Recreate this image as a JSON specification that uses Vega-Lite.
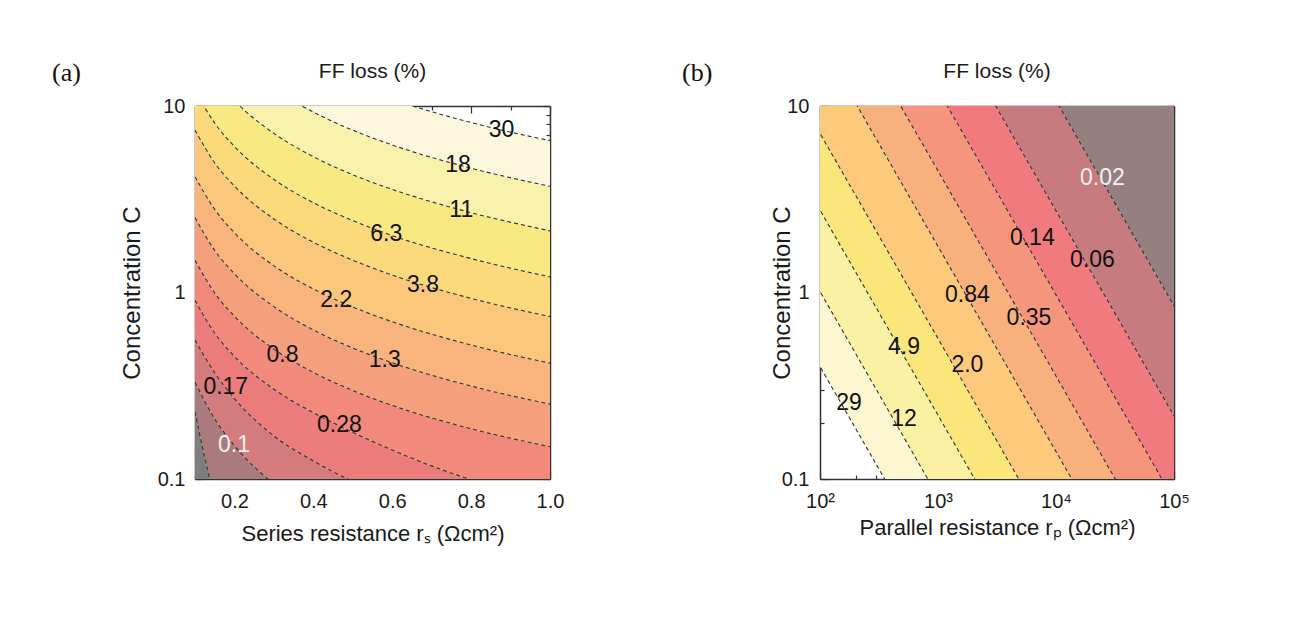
{
  "$schema": "https://vega.github.io/schema/vega-lite/v6.json",
  "background": "white",
  "padding": {"left": 52, "top": 60, "right": 5, "bottom": 5},
  "spacing": 118,
  "resolve": {"scale": {"color": "independent"}},
  "config": {
    "font": "Liberation Sans",
    "view": {"stroke": null},
    "axis": {"domain": true, "domainColor": "#333", "domainWidth": 1.5, "grid": false, "zindex": 1, "labelFont": "Liberation Sans", "labelFontSize": 20, "labelColor": "#1a1a1a", "tickColor": "#333", "tickWidth": 1.2, "titleFont": "Liberation Sans", "titleFontSize": 22, "titleFontWeight": "normal", "titleColor": "#1a1a1a", "labelOverlap": false, "labelFlush": false, "labelBound": false},
    "title": {"font": "Liberation Sans", "fontSize": 21, "fontWeight": "normal", "color": "#1a1a1a", "offset": -22}
  },
  "datasets": {
    "a_curves": [
      {"x":0.1,"C":0.001,"k":0},{"x":0.15,"C":0.001,"k":0},{"x":0.2,"C":0.001,"k":0},{"x":0.3,"C":0.001,"k":0},{"x":0.4,"C":0.001,"k":0},{"x":0.5,"C":0.001,"k":0},{"x":0.6,"C":0.001,"k":0},{"x":0.8,"C":0.001,"k":0},{"x":1.0,"C":0.001,"k":0},
      {"x":0.1,"C":0.23,"k":1},{"x":0.15,"C":0.082,"k":1},{"x":0.2,"C":0.055,"k":1},{"x":0.3,"C":0.037,"k":1},{"x":0.4,"C":0.028,"k":1},{"x":0.5,"C":0.022,"k":1},{"x":0.6,"C":0.018,"k":1},{"x":0.8,"C":0.014,"k":1},{"x":1.0,"C":0.011,"k":1},
      {"x":0.1,"C":0.33,"k":2},{"x":0.15,"C":0.21,"k":2},{"x":0.2,"C":0.151,"k":2},{"x":0.3,"C":0.094,"k":2},{"x":0.4,"C":0.068,"k":2},{"x":0.5,"C":0.054,"k":2},{"x":0.6,"C":0.045,"k":2},{"x":0.8,"C":0.034,"k":2},{"x":1.0,"C":0.027,"k":2},
      {"x":0.1,"C":0.556,"k":3},{"x":0.15,"C":0.371,"k":3},{"x":0.2,"C":0.27,"k":3},{"x":0.3,"C":0.17,"k":3},{"x":0.4,"C":0.125,"k":3},{"x":0.5,"C":0.097,"k":3},{"x":0.6,"C":0.08,"k":3},{"x":0.8,"C":0.06,"k":3},{"x":1.0,"C":0.048,"k":3},
      {"x":0.1,"C":0.908,"k":4},{"x":0.15,"C":0.605,"k":4},{"x":0.2,"C":0.454,"k":4},{"x":0.3,"C":0.303,"k":4},{"x":0.4,"C":0.227,"k":4},{"x":0.5,"C":0.178,"k":4},{"x":0.6,"C":0.143,"k":4},{"x":0.8,"C":0.099,"k":4},{"x":1.0,"C":0.076,"k":4},
      {"x":0.1,"C":1.49,"k":5},{"x":0.15,"C":0.993,"k":5},{"x":0.2,"C":0.745,"k":5},{"x":0.3,"C":0.497,"k":5},{"x":0.4,"C":0.373,"k":5},{"x":0.5,"C":0.298,"k":5},{"x":0.6,"C":0.248,"k":5},{"x":0.8,"C":0.186,"k":5},{"x":1.0,"C":0.149,"k":5},
      {"x":0.1,"C":2.52,"k":6},{"x":0.15,"C":1.68,"k":6},{"x":0.2,"C":1.26,"k":6},{"x":0.3,"C":0.84,"k":6},{"x":0.4,"C":0.63,"k":6},{"x":0.5,"C":0.504,"k":6},{"x":0.6,"C":0.42,"k":6},{"x":0.8,"C":0.315,"k":6},{"x":1.0,"C":0.252,"k":6},
      {"x":0.1,"C":4.18,"k":7},{"x":0.15,"C":2.79,"k":7},{"x":0.2,"C":2.09,"k":7},{"x":0.3,"C":1.39,"k":7},{"x":0.4,"C":1.045,"k":7},{"x":0.5,"C":0.836,"k":7},{"x":0.6,"C":0.697,"k":7},{"x":0.8,"C":0.523,"k":7},{"x":1.0,"C":0.418,"k":7},
      {"x":0.1,"C":7.43,"k":8},{"x":0.15,"C":4.95,"k":8},{"x":0.2,"C":3.72,"k":8},{"x":0.3,"C":2.48,"k":8},{"x":0.4,"C":1.86,"k":8},{"x":0.5,"C":1.49,"k":8},{"x":0.6,"C":1.24,"k":8},{"x":0.8,"C":0.93,"k":8},{"x":1.0,"C":0.743,"k":8},
      {"x":0.1,"C":12.13,"k":9},{"x":0.15,"C":8.09,"k":9},{"x":0.2,"C":6.07,"k":9},{"x":0.3,"C":4.04,"k":9},{"x":0.4,"C":3.03,"k":9},{"x":0.5,"C":2.43,"k":9},{"x":0.6,"C":2.02,"k":9},{"x":0.8,"C":1.52,"k":9},{"x":1.0,"C":1.213,"k":9},
      {"x":0.1,"C":21.4,"k":10},{"x":0.15,"C":14.27,"k":10},{"x":0.2,"C":10.7,"k":10},{"x":0.3,"C":7.13,"k":10},{"x":0.4,"C":5.35,"k":10},{"x":0.5,"C":4.28,"k":10},{"x":0.6,"C":3.57,"k":10},{"x":0.8,"C":2.68,"k":10},{"x":1.0,"C":2.14,"k":10},
      {"x":0.1,"C":37.1,"k":11},{"x":0.15,"C":24.7,"k":11},{"x":0.2,"C":18.55,"k":11},{"x":0.3,"C":12.37,"k":11},{"x":0.4,"C":9.28,"k":11},{"x":0.5,"C":7.42,"k":11},{"x":0.6,"C":6.18,"k":11},{"x":0.8,"C":4.64,"k":11},{"x":1.0,"C":3.71,"k":11},
      {"x":0.1,"C":65.2,"k":12},{"x":0.15,"C":43.5,"k":12},{"x":0.2,"C":32.6,"k":12},{"x":0.3,"C":21.7,"k":12},{"x":0.4,"C":16.3,"k":12},{"x":0.5,"C":13.0,"k":12},{"x":0.6,"C":10.87,"k":12},{"x":0.8,"C":8.15,"k":12},{"x":1.0,"C":6.52,"k":12}
    ],
    "a_labels": [
      {"x":0.877,"C":7.43,"t":"30"},{"x":0.767,"C":4.83,"t":"18"},{"x":0.775,"C":2.77,"t":"11"},{"x":0.585,"C":2.07,"t":"6.3"},{"x":0.678,"C":1.10,"t":"3.8"},{"x":0.458,"C":0.912,"t":"2.2"},{"x":0.581,"C":0.435,"t":"1.3"},{"x":0.322,"C":0.462,"t":"0.8"},{"x":0.466,"C":0.195,"t":"0.28"},{"x":0.178,"C":0.313,"t":"0.17"},{"x":0.199,"C":0.152,"t":"0.1"}
    ],
    "b_curves": [
      {"x":63.1,"C":0.665,"k":1},{"x":158489,"C":0.000121,"k":1},
      {"x":63.1,"C":1.679,"k":2},{"x":158489,"C":0.000305,"k":2},
      {"x":63.1,"C":4.59,"k":3},{"x":158489,"C":0.000836,"k":3},
      {"x":63.1,"C":11.83,"k":4},{"x":158489,"C":0.00215,"k":4},
      {"x":63.1,"C":36.9,"k":5},{"x":158489,"C":0.00671,"k":5},
      {"x":63.1,"C":93.8,"k":6},{"x":158489,"C":0.01706,"k":6},
      {"x":63.1,"C":255,"k":7},{"x":158489,"C":0.0465,"k":7},
      {"x":63.1,"C":721,"k":8},{"x":158489,"C":0.1312,"k":8},
      {"x":63.1,"C":2805,"k":9},{"x":158489,"C":0.5105,"k":9},
      {"x":63.1,"C":1000000,"k":10},{"x":158489,"C":1000000,"k":10}
    ],
    "b_labels": [
      {"x":176,"C":0.255,"t":"29"},{"x":515,"C":0.211,"t":"12"},{"x":515,"C":0.513,"t":"4.9"},{"x":1774,"C":0.408,"t":"2.0"},{"x":1774,"C":0.970,"t":"0.84"},{"x":5902,"C":0.726,"t":"0.35"},{"x":6295,"C":1.95,"t":"0.14"},{"x":20324,"C":1.493,"t":"0.06"},{"x":24717,"C":4.09,"t":"0.02"}
    ]
  },
  "hconcat": [
    {
      "width": 355,
      "height": 373,
      "title": {"text": "FF loss (%)"},
      "resolve": {"axis": {"x": "independent", "y": "independent"}},
      "layer": [
        {
          "data": {"name": "a_curves"},
          "transform": [
            {"window": [{"op": "lead", "field": "C", "as": "C2"}], "groupby": ["x"], "sort": [{"field": "k", "order": "ascending"}]},
            {"filter": "isValid(datum.C2)"}
          ],
          "mark": {"type": "area", "clip": true, "interpolate": "monotone"},
          "encoding": {
            "x": {"field": "x", "type": "quantitative", "scale": {"domain": [0.1, 1], "nice": false, "zero": false},
              "axis": {"orient": "bottom", "values": [0.1,0.2,0.3,0.4,0.5,0.6,0.7,0.8,0.9,1.0], "labelExpr": "round(datum.value*10) % 2 == 0 ? format(datum.value, '.1f') : ''", "tickSize": {"condition": {"test": "round(datum.value*10) % 2 == 0", "value": -7}, "value": -4}, "labelPadding": 19, "title": "Series resistance rₛ (Ωcm²)", "titlePadding": 9}},
            "y": {"field": "C", "type": "quantitative", "scale": {"type": "log", "domain": [0.1, 10], "nice": false},
              "axis": {"orient": "left", "values": [0.1,0.2,0.3,0.4,0.5,0.6,0.7,0.8,0.9,1,2,3,4,5,6,7,8,9,10], "labelExpr": "datum.value == 0.1 ? '0.1' : datum.value == 1 ? '1' : datum.value == 10 ? '10' : ''", "tickSize": {"condition": {"test": "datum.value == 0.1 || datum.value == 1 || datum.value == 10", "value": -7}, "value": -4}, "labelPadding": 17, "title": "Concentration C", "titleFontSize": 24, "titlePadding": 13}},
            "y2": {"field": "C2"},
            "color": {"field": "k", "type": "ordinal", "legend": null,
              "scale": {"domain": [0,1,2,3,4,5,6,7,8,9,10,11], "range": ["#7e7e7e","#aa7b7c","#d47b7d","#ec7b7b","#f28a7b","#f5a07c","#f8b47c","#fbc77b","#fcda7c","#f9e983","#faf1ac","#fdf8dd"]}}
          }
        },
        {
          "data": {"name": "a_curves"},
          "transform": [{"filter": "datum.k >= 1"}],
          "mark": {"type": "line", "clip": true, "interpolate": "monotone", "strokeDash": [4, 3], "strokeWidth": 1.1, "color": "#333333"},
          "encoding": {
            "x": {"field": "x", "type": "quantitative",
              "axis": {"orient": "top", "labels": false, "title": null, "values": [0.1,0.2,0.3,0.4,0.5,0.6,0.7,0.8,0.9,1.0], "tickSize": {"condition": {"test": "round(datum.value*10) % 2 == 0", "value": -7}, "value": -4}}},
            "y": {"field": "C", "type": "quantitative",
              "axis": {"orient": "right", "labels": false, "title": null, "values": [0.1,0.2,0.3,0.4,0.5,0.6,0.7,0.8,0.9,1,2,3,4,5,6,7,8,9,10], "tickSize": {"condition": {"test": "datum.value == 0.1 || datum.value == 1 || datum.value == 10", "value": -7}, "value": -4}}},
            "detail": {"field": "k"}
          }
        },
        {
          "data": {"name": "a_labels"},
          "mark": {"type": "text", "fontSize": 23, "font": "Liberation Sans"},
          "encoding": {
            "x": {"field": "x", "type": "quantitative", "axis": null},
            "y": {"field": "C", "type": "quantitative", "axis": null},
            "text": {"field": "t"},
            "color": {"condition": {"test": "datum.t == '0.1'", "value": "#f2f2f2"}, "value": "#111111"}
          }
        },
        {
          "data": {"values": [{"t": "(a)"}]},
          "mark": {"type": "text", "font": "Liberation Serif", "fontSize": 26, "align": "left", "baseline": "middle", "dx": -143, "dy": -33, "color": "#111111"},
          "encoding": {
            "x": {"datum": 0.1, "axis": null},
            "y": {"datum": 10, "axis": null},
            "text": {"field": "t"}
          }
        }
      ]
    },
    {
      "width": 354,
      "height": 373,
      "title": {"text": "FF loss (%)"},
      "resolve": {"axis": {"x": "independent", "y": "independent"}},
      "layer": [
        {
          "data": {"name": "b_curves"},
          "transform": [
            {"window": [{"op": "lead", "field": "C", "as": "C2"}], "groupby": ["x"], "sort": [{"field": "k", "order": "ascending"}]},
            {"filter": "isValid(datum.C2)"}
          ],
          "mark": {"type": "area", "clip": true},
          "encoding": {
            "x": {"field": "x", "type": "quantitative", "scale": {"type": "log", "domain": [100, 100000], "nice": false},
              "axis": {"orient": "bottom", "values": [100,200,300,400,500,600,700,800,900,1000,2000,3000,4000,5000,6000,7000,8000,9000,10000,20000,30000,40000,50000,60000,70000,80000,90000,100000], "labelExpr": "datum.value == 100 ? '10²' : datum.value == 1000 ? '10³' : datum.value == 10000 ? '10⁴' : datum.value == 100000 ? '10⁵' : ''", "tickSize": {"condition": {"test": "datum.value == 100 || datum.value == 1000 || datum.value == 10000 || datum.value == 100000", "value": -7}, "value": -4}, "labelPadding": 19, "title": "Parallel resistance rₚ (Ωcm²)", "titlePadding": 3}},
            "y": {"field": "C", "type": "quantitative", "scale": {"type": "log", "domain": [0.1, 10], "nice": false},
              "axis": {"orient": "left", "values": [0.1,0.2,0.3,0.4,0.5,0.6,0.7,0.8,0.9,1,2,3,4,5,6,7,8,9,10], "labelExpr": "datum.value == 0.1 ? '0.1' : datum.value == 1 ? '1' : datum.value == 10 ? '10' : ''", "tickSize": {"condition": {"test": "datum.value == 0.1 || datum.value == 1 || datum.value == 10", "value": -7}, "value": -4}, "labelPadding": 18, "title": "Concentration C", "titleFontSize": 24, "titlePadding": -13}},
            "y2": {"field": "C2"},
            "color": {"field": "k", "type": "ordinal", "legend": null,
              "scale": {"domain": [1,2,3,4,5,6,7,8,9], "range": ["#fdf8d2","#faf1a4","#fbe67c","#fcca7a","#f8b07c","#f5957c","#f07a7d","#c77b7f","#967f80"]}}
          }
        },
        {
          "data": {"name": "b_curves"},
          "transform": [{"filter": "datum.k <= 9"}],
          "mark": {"type": "line", "clip": true, "strokeDash": [4, 3], "strokeWidth": 1.1, "color": "#333333"},
          "encoding": {
            "x": {"field": "x", "type": "quantitative",
              "axis": {"orient": "top", "labels": false, "title": null, "values": [100,200,300,400,500,600,700,800,900,1000,2000,3000,4000,5000,6000,7000,8000,9000,10000,20000,30000,40000,50000,60000,70000,80000,90000,100000], "tickSize": {"condition": {"test": "datum.value == 100 || datum.value == 1000 || datum.value == 10000 || datum.value == 100000", "value": -7}, "value": -4}}},
            "y": {"field": "C", "type": "quantitative",
              "axis": {"orient": "right", "labels": false, "title": null, "values": [0.1,0.2,0.3,0.4,0.5,0.6,0.7,0.8,0.9,1,2,3,4,5,6,7,8,9,10], "tickSize": {"condition": {"test": "datum.value == 0.1 || datum.value == 1 || datum.value == 10", "value": -7}, "value": -4}}},
            "detail": {"field": "k"}
          }
        },
        {
          "data": {"name": "b_labels"},
          "mark": {"type": "text", "fontSize": 23, "font": "Liberation Sans"},
          "encoding": {
            "x": {"field": "x", "type": "quantitative", "axis": null},
            "y": {"field": "C", "type": "quantitative", "axis": null},
            "text": {"field": "t"},
            "color": {"condition": {"test": "datum.t == '0.02'", "value": "#f2f2f2"}, "value": "#111111"}
          }
        },
        {
          "data": {"values": [{"t": "(b)"}]},
          "mark": {"type": "text", "font": "Liberation Serif", "fontSize": 26, "align": "left", "baseline": "middle", "dx": -138, "dy": -33, "color": "#111111"},
          "encoding": {
            "x": {"datum": 100, "axis": null},
            "y": {"datum": 10, "axis": null},
            "text": {"field": "t"}
          }
        }
      ]
    }
  ]
}
